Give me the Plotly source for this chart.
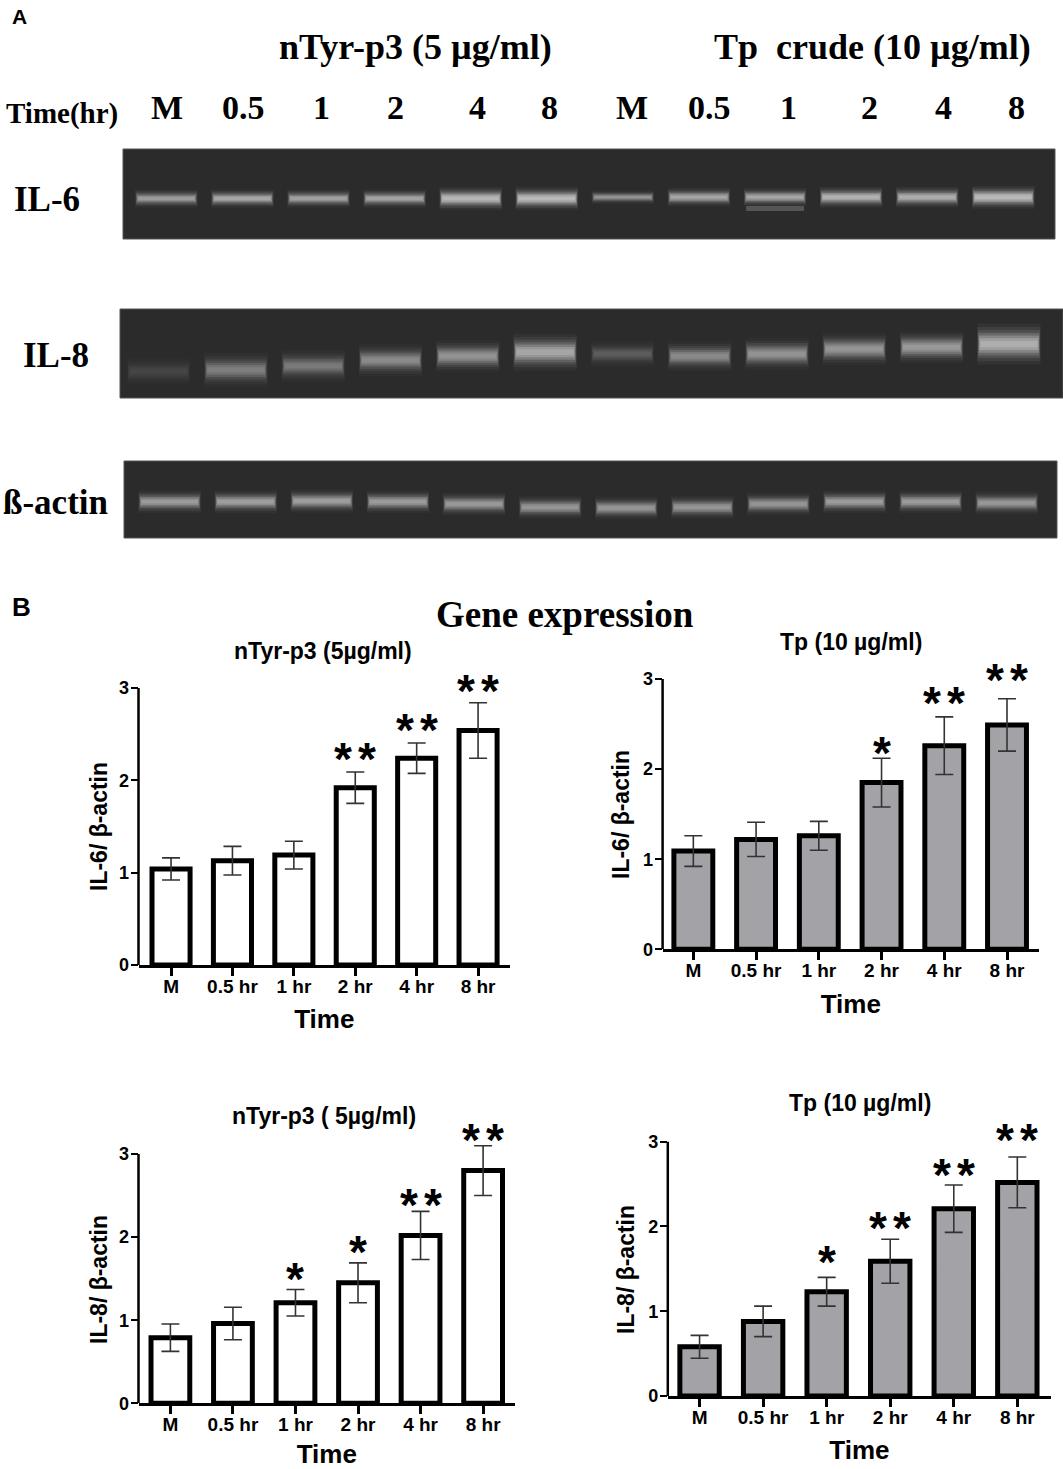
import plotly.graph_objects as go

W, H = 1063, 1469


def fx(p):
    # pixel column -> paper x
    return p / W


def fy(p):
    # pixel row -> paper y
    return 1 - p / H


# ---------------- panel A : RT-PCR gels ----------------
lane_names = ["M", "0.5", "1", "2", "4", "8", "M", "0.5", "1", "2", "4", "8"]
lane_label_px = [167, 243, 321, 395, 477, 549, 632, 709, 788, 869, 943, 1016]

# band migration (0 = top of gel, 1 = bottom), brightness 0-1, thickness px
il6_pos = [0.55, 0.55, 0.55, 0.55, 0.55, 0.55, 0.535, 0.535, 0.535, 0.535, 0.535, 0.535]
il6_int = [0.66, 0.74, 0.70, 0.72, 0.92, 0.95, 0.58, 0.76, 0.74, 0.86, 0.82, 0.95]
il6_thk = [8, 8, 8, 8, 10, 10, 6, 8, 8, 9, 9, 10]

il8_pos = [0.70, 0.685, 0.64, 0.575, 0.53, 0.485, 0.505, 0.53, 0.505, 0.45, 0.43, 0.395]
il8_int = [0.12, 0.44, 0.40, 0.52, 0.58, 0.76, 0.24, 0.52, 0.58, 0.60, 0.64, 0.84]
il8_thk = [13, 15, 14, 14, 14, 16, 12, 13, 14, 14, 14, 18]

act_pos = [0.53, 0.53, 0.52, 0.53, 0.56, 0.60, 0.61, 0.60, 0.56, 0.53, 0.53, 0.545]
act_int = [0.66, 0.68, 0.68, 0.66, 0.64, 0.60, 0.60, 0.60, 0.60, 0.66, 0.66, 0.63]
act_thk = [10] * 12

# faint extra band in the Tp 1 hr IL-6 lane
il6_extra_lane = [8]
il6_extra_pos = [0.66]
il6_extra_int = [0.22]

# ---------------- panel B : gene expression ----------------
times = ["M", "0.5 hr", "1 hr", "2 hr", "4 hr", "8 hr"]

il6_ntyr = [1.04, 1.13, 1.19, 1.92, 2.24, 2.54]
il6_ntyr_err = [0.12, 0.155, 0.15, 0.17, 0.165, 0.30]
il6_ntyr_sig = [0, 0, 0, 2, 2, 2]
il6_ntyr_sig_y = [0, 0, 0, 2.34, 2.65, 3.08]

il6_tp = [1.09, 1.22, 1.26, 1.85, 2.26, 2.49]
il6_tp_err = [0.17, 0.19, 0.16, 0.27, 0.32, 0.29]
il6_tp_sig = [0, 0, 0, 1, 2, 2]
il6_tp_sig_y = [0, 0, 0, 2.29, 2.84, 3.10]

il8_ntyr = [0.79, 0.96, 1.21, 1.45, 2.02, 2.80]
il8_ntyr_err = [0.165, 0.195, 0.16, 0.24, 0.29, 0.30]
il8_ntyr_sig = [0, 0, 1, 1, 2, 2]
il8_ntyr_sig_y = [0, 0, 1.62, 1.94, 2.51, 3.29]

il8_tp = [0.58, 0.88, 1.23, 1.59, 2.21, 2.52]
il8_tp_err = [0.135, 0.18, 0.17, 0.26, 0.28, 0.30]
il8_tp_sig = [0, 0, 1, 2, 2, 2]
il8_tp_sig_y = [0, 0, 1.70, 2.10, 2.72, 3.14]

fig = go.Figure()
shapes = []
annotations = []
layout_axes = {}

# glow layers for a band: (thickness factor, half length in lanes, alpha factor)
band_layers = [(2.3, 0.41, 0.05), (1.9, 0.41, 0.08), (1.55, 0.40, 0.12),
               (1.25, 0.395, 0.18), (0.95, 0.39, 0.28), (0.65, 0.38, 0.30), (0.35, 0.37, 0.25)]

gels = [
    # axis no, band data, x px extent, y px extent, lane range
    (5, il6_pos, il6_int, il6_thk, (123, 1055), (149, 239), [-0.57, 11.68]),
    (6, il8_pos, il8_int, il8_thk, (120, 1063), (309, 398), [-0.5, 11.7]),
    (7, act_pos, act_int, act_thk, (124, 1057), (461, 538), [-0.6, 11.66]),
]
for n, pos, inten, thk, xpx, ypx, xr in gels:
    xa, ya = f"x{n}", f"y{n}"
    layout_axes[f"xaxis{n}"] = dict(domain=[fx(xpx[0]), fx(xpx[1])], range=xr,
                                    visible=False, anchor=ya, fixedrange=True)
    layout_axes[f"yaxis{n}"] = dict(domain=[fy(ypx[1]), fy(ypx[0])], range=[1, 0],
                                    visible=False, anchor=xa, fixedrange=True)
    shapes.append(dict(type="rect", xref=f"{xa} domain", yref=f"{ya} domain",
                       x0=0, x1=1, y0=0, y1=1, fillcolor="#2b2b2b",
                       line=dict(color="#555555", width=1), layer="below"))
    for i in range(len(lane_names)):
        for tf, hl, af in band_layers:
            fig.add_trace(go.Scatter(
                x=[i - hl, i + hl], y=[pos[i], pos[i]], mode="lines",
                line=dict(color=f"rgba(235,235,235,{af * inten[i]:.3f})", width=thk[i] * tf),
                xaxis=xa, yaxis=ya, hoverinfo="skip", showlegend=False))
        if n == 5 and i in il6_extra_lane:
            k = il6_extra_lane.index(i)
            fig.add_trace(go.Scatter(
                x=[i - 0.38, i + 0.38], y=[il6_extra_pos[k]] * 2, mode="lines",
                line=dict(color=f"rgba(235,235,235,{il6_extra_int[k]:.3f})", width=5),
                xaxis=xa, yaxis=ya, hoverinfo="skip", showlegend=False))

serif = "Liberation Serif, Times New Roman, serif"
sans = "Liberation Sans, Arial, sans-serif"


def txt(text, x, y, size, family=serif, xanchor="center", angle=0):
    annotations.append(dict(text=text, x=fx(x), y=fy(y), xref="paper", yref="paper",
                            showarrow=False, xanchor=xanchor, yanchor="middle", textangle=angle,
                            font=dict(family=family, size=size, color="black", weight="bold")))


txt("A", 10, 17, 21, sans, "left")
txt("nTyr-p3 (5 µg/ml)", 415, 47, 36)
txt("Tp  crude (10 µg/ml)", 872, 47, 36)
txt("Time(hr)", 62, 114, 29)
for name, px in zip(lane_names, lane_label_px):
    txt(name, px, 108, 34)
txt("IL-6", 47, 200, 35)
txt("IL-8", 56, 355, 35)
txt("ß-actin", 55, 503, 35)

# ---- bar charts ----
charts = [
    # axis no, values, err, n stars, star y, fill, title, y title, x px, y0 px, px/unit,
    # x range, title px, y title px
    (1, il6_ntyr, il6_ntyr_err, il6_ntyr_sig, il6_ntyr_sig_y, "white", "nTyr-p3 (5µg/ml)",
     "IL-6/ β-actin", (138.5, 510), 965, 92.33, [-0.53, 5.52], (323, 651), (99, 827)),
    (2, il6_tp, il6_tp_err, il6_tp_sig, il6_tp_sig_y, "#a3a3a7", "Tp (10 µg/ml)",
     "IL-6/ β-actin", (662.6, 1039), 949.3, 90.1, [-0.49, 5.51], (851, 642), (621, 815)),
    (3, il8_ntyr, il8_ntyr_err, il8_ntyr_sig, il8_ntyr_sig_y, "white", "nTyr-p3 ( 5µg/ml)",
     "IL-8/ β-actin", (138.5, 515), 1403.3, 83.1, [-0.51, 5.51], (324, 1116), (99, 1280)),
    (4, il8_tp, il8_tp_err, il8_tp_sig, il8_tp_sig_y, "#a3a3a7", "Tp (10 µg/ml)",
     "IL-8/ β-actin", (667.8, 1051), 1396, 84.77, [-0.5, 5.53], (860, 1103), (626, 1270)),
]
ytop = 3.5
for n, vals, errs, sig, sig_y, fill, title, ytitle, xpx, y0, ppu, xr, tpos, ypos in charts:
    s = "" if n == 1 else str(n)
    fig.add_trace(go.Bar(
        x=list(range(len(times))), y=vals, width=0.62,
        marker=dict(color=fill, line=dict(color="black", width=5)),
        error_y=dict(type="data", array=errs, color="#333333", thickness=1.6, width=9),
        xaxis=f"x{s}", yaxis=f"y{s}", showlegend=False))
    layout_axes[f"xaxis{s}"] = dict(
        domain=[fx(xpx[0]), fx(xpx[1])], range=xr, anchor=f"y{s}",
        tickvals=list(range(len(times))), ticktext=times,
        ticks="outside", ticklen=8, tickwidth=2.5, tickcolor="black",
        ticklabelstandoff=-6,
        showline=True, linecolor="black", linewidth=3, showgrid=False, zeroline=False,
        tickfont=dict(family=sans, size=19, color="black", weight="bold"),
        title=dict(text="Time", standoff=15,
                   font=dict(family=sans, size=26, color="black", weight="bold")))
    layout_axes[f"yaxis{s}"] = dict(
        domain=[fy(y0), fy(y0 - ytop * ppu)], range=[0, ytop], anchor=f"x{s}",
        tickvals=[0, 1, 2, 3], ticks="outside", ticklen=7, tickwidth=2, tickcolor="black",
        ticklabelstandoff=-2,
        showline=False, showgrid=False, zeroline=False,
        tickfont=dict(family=sans, size=18, color="black", weight="bold"))
    # y axis line stops at 3
    shapes.append(dict(type="line", xref=f"x{s} domain", yref=f"y{s}",
                       x0=0, x1=0, y0=0, y1=3, line=dict(color="black", width=2.5)))
    for i, nstar in enumerate(sig):
        shifts = {1: [0], 2: [-12, 12]}.get(nstar, [])
        for dx in shifts:
            annotations.append(dict(text="*", x=i, y=sig_y[i], xref=f"x{s}", yref=f"y{s}",
                                    showarrow=False, yanchor="middle", xshift=dx, yshift=-10,
                                    font=dict(family=sans, size=46, color="black", weight="bold")))
    txt(title, tpos[0], tpos[1], 23, sans)
    txt(ytitle, ypos[0], ypos[1], 23, sans, angle=-90)

txt("B", 10, 607, 26, sans, "left")
txt("Gene expression", 565, 614, 37)

fig.update_layout(
    width=W, height=H,
    margin=dict(l=0, r=0, t=0, b=0),
    paper_bgcolor="white", plot_bgcolor="rgba(0,0,0,0)",
    template="none",
    font=dict(family=sans, color="black"),
    shapes=shapes, annotations=annotations,
    **layout_axes,
)

fig.write_html("out.html", config={"displayModeBar": False},
               post_script="document.body.style.margin='0';")
